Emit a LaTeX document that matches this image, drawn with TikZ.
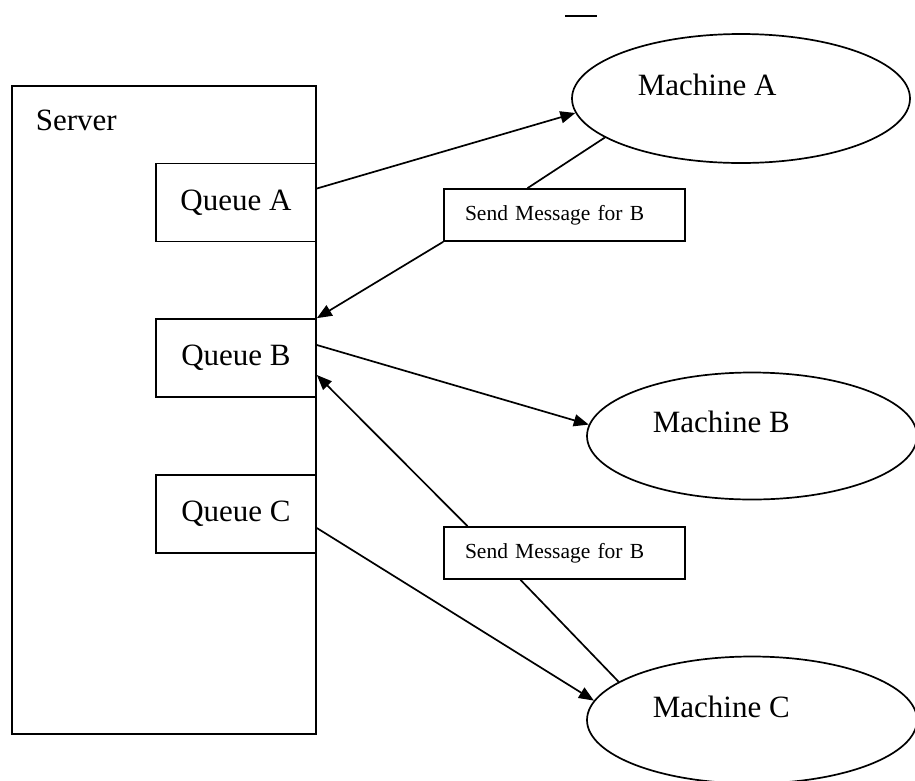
\documentclass[tikz,border=0pt]{standalone}
\usepackage{fontspec}
\setmainfont{Liberation Serif}
\usetikzlibrary{shapes.geometric,arrows.meta,calc}
\begin{document}
\begin{tikzpicture}[x=1pt,y=-1pt,
  line width=1.7pt,
  box/.style={draw,rectangle,inner sep=0pt},
  qbox/.style={box,minimum width=160pt,minimum height=78pt,font=\fontsize{31}{31}\selectfont},
  msgbox/.style={box,minimum width=241pt,minimum height=52pt,text width=199pt,inner xsep=21pt,align=left,font=\fontsize{21.5}{22}\selectfont},
  mach/.style={draw,ellipse,inner sep=0pt,minimum width=330pt,minimum height=127pt},
  lbl/.style={anchor=base west,inner sep=0pt,font=\fontsize{31}{31}\selectfont},
  arr/.style={-{Triangle[length=15pt,width=12pt]}},
]
\clip (0,0) rectangle (915,780);
\fill[white] (0,0) rectangle (915,780);
% server
\node[box,minimum width=304pt,minimum height=648pt] (srv) at (164,410) {};
\node[lbl] (srvl) at (35,130) {Server};
% queues
\node[qbox] (qa) at (236,202.5) {Queue A};
\node[qbox] (qb) at (236,358) {Queue B};
\node[qbox] (qc) at (236,514) {Queue C};
% machines
\node[mach,minimum width=338pt,minimum height=129pt] (ma) at (741,98.5) {};
\node[lbl] (mal) at (637,95) {Machine A};
\node[mach] (mb) at (752,436) {};
\node[lbl] (mbl) at (652,432) {Machine B};
\node[mach] (mc) at (752,720) {};
\node[lbl] (mcl) at (652,717) {Machine C};
% message boxes
\node[msgbox] (sb1) at (564.5,215) {\fontdimen2\font=0.22em Send Message for B};
\node[msgbox] (sb2) at (564.5,553) {\fontdimen2\font=0.22em Send Message for B};
% small dash at top
\draw[line width=2.5pt] (565,16) -- (597,16);
% connectors
\draw[arr] ($(qa.east)+(0,-14)$) -- (ma.185);
\draw (ma.196) -- ($(sb1.north)+(-37,0)$);
\draw[arr] (sb1.south west) -- (qb.north east);
\draw[arr] ($(qb.east)+(0,-13)$) -- (mb.176);
\draw[arr] ($(sb2.north)+(-97,0)$) -- ($(qb.east)+(0,17)$);
\draw[arr] ($(qc.east)+(0,14)$) -- (mc.173);
\draw (mc.164) -- ($(sb2.south)+(-44,0)$);
\end{tikzpicture}
\end{document}
